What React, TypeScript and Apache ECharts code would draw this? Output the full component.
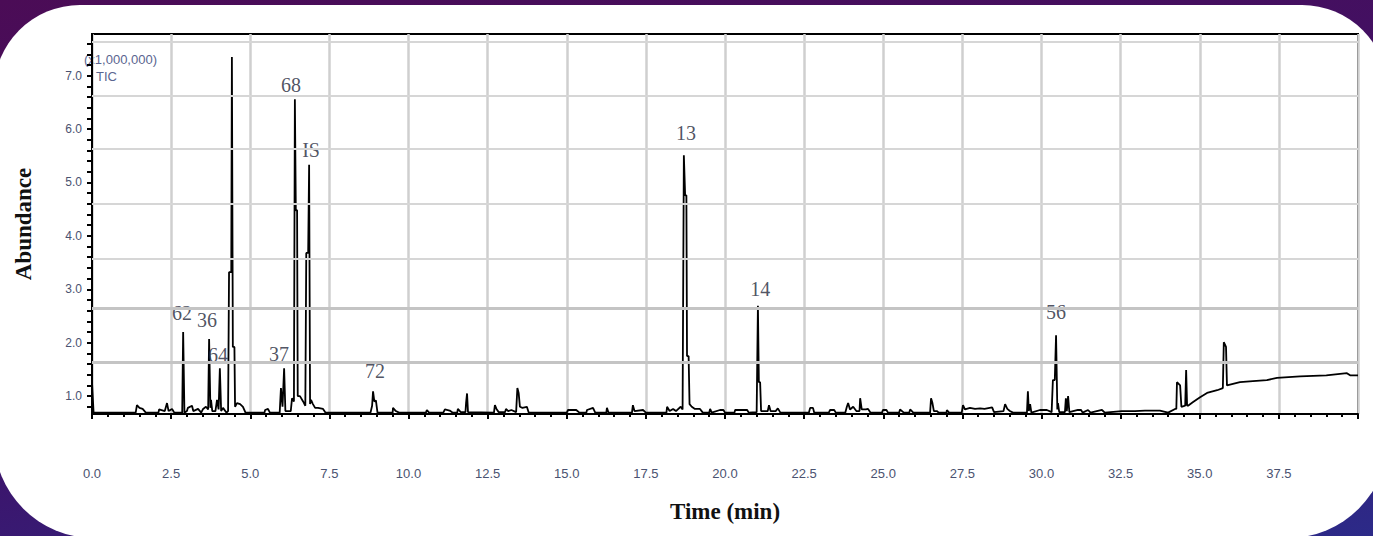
import React, { useEffect, useRef } from "react";
import * as echarts from "echarts";

// ---- data (time in min, abundance in x1,000,000) ----
const segmentEarly: [number, number][] = [
  [0, 1.26], [0.05, 0.69], [1.38, 0.69], [1.42, 0.83], [1.5, 0.78], [1.6, 0.76], [1.7, 0.69],
  [2.1, 0.69], [2.12, 0.75], [2.3, 0.72], [2.37, 0.87], [2.42, 0.72], [2.53, 0.76], [2.6, 0.69],
  [2.85, 0.69], [2.88, 2.2], [2.92, 0.69], [3.0, 0.72], [3.03, 0.78], [3.16, 0.82], [3.2, 0.72],
  [3.35, 0.76], [3.45, 0.69], [3.51, 0.76], [3.6, 0.8], [3.67, 0.75], [3.7, 2.07], [3.74, 0.78],
  [3.76, 0.93], [3.8, 0.72], [3.9, 0.72], [3.95, 0.93], [4.0, 0.75], [4.04, 1.52], [4.08, 0.72],
  [4.14, 0.78], [4.25, 0.69], [4.3, 0.72], [4.33, 3.32], [4.4, 3.32], [4.42, 7.35], [4.45, 1.92],
  [4.5, 1.92], [4.52, 0.8], [4.58, 0.87], [4.68, 0.85], [4.77, 0.8], [4.85, 0.69],
  [5.45, 0.69], [5.47, 0.74], [5.56, 0.76], [5.62, 0.69], [5.93, 0.69], [5.97, 1.15], [6.02, 0.8],
  [6.07, 1.52], [6.11, 0.72], [6.28, 0.72], [6.32, 0.96], [6.38, 0.9], [6.41, 6.56], [6.44, 4.48],
  [6.48, 4.48], [6.5, 1.0], [6.57, 1.0], [6.67, 0.9], [6.74, 0.82], [6.77, 3.68], [6.83, 3.68],
  [6.86, 5.33], [6.89, 0.85], [6.92, 0.93], [6.98, 0.85], [7.05, 0.78], [7.14, 0.78], [7.3, 0.76],
  [7.38, 0.69], [8.8, 0.69], [8.85, 0.82], [8.88, 1.09], [8.92, 0.9], [8.97, 0.92], [9.02, 0.69],
  [9.5, 0.69], [9.51, 0.78], [9.6, 0.72],
];

const segmentMiddle: [number, number][] = [
  [9.7, 0.69], [10.55, 0.69], [10.58, 0.74], [10.65, 0.69], [11.1, 0.69], [11.15, 0.75],
  [11.3, 0.73], [11.4, 0.69], [11.54, 0.69], [11.56, 0.76], [11.65, 0.7], [11.8, 0.7], [11.82, 0.88],
  [11.85, 1.05], [11.88, 0.7], [12.7, 0.69], [12.73, 0.83], [12.78, 0.76], [12.85, 0.7],
  [13.05, 0.7], [13.08, 0.76], [13.15, 0.72], [13.25, 0.74], [13.4, 0.7], [13.44, 1.15],
  [13.48, 1.06], [13.52, 0.8], [13.6, 0.78], [13.74, 0.8], [13.8, 0.69], [15.0, 0.69], [15.04, 0.74],
  [15.3, 0.74], [15.4, 0.69], [15.62, 0.69], [15.64, 0.74], [15.83, 0.78], [15.9, 0.69],
  [16.25, 0.69], [16.27, 0.78], [16.32, 0.69], [17.06, 0.69], [17.09, 0.83], [17.14, 0.72],
  [17.41, 0.74], [17.5, 0.69], [18.15, 0.69], [18.17, 0.8], [18.25, 0.72], [18.36, 0.76],
  [18.45, 0.72], [18.6, 0.8], [18.66, 0.75], [18.7, 5.51], [18.74, 4.76], [18.78, 4.76],
  [18.8, 1.75], [18.85, 1.75], [18.88, 0.85], [18.95, 0.8], [19.05, 0.76], [19.21, 0.76],
  [19.3, 0.69], [19.5, 0.69], [19.53, 0.76], [19.58, 0.69], [19.84, 0.74], [19.95, 0.74],
  [20.0, 0.69], [20.3, 0.69], [20.32, 0.74], [20.7, 0.74], [20.75, 0.69], [21.0, 0.7],
  [21.04, 2.69], [21.07, 1.26], [21.11, 1.26], [21.14, 0.72], [21.35, 0.72], [21.39, 0.83],
  [21.44, 0.72], [21.6, 0.72], [21.67, 0.77], [21.75, 0.69], [22.65, 0.69], [22.69, 0.78],
  [22.78, 0.78], [22.82, 0.69], [23.28, 0.69], [23.32, 0.74], [23.45, 0.74], [23.5, 0.69],
  [23.8, 0.69], [23.85, 0.8], [23.89, 0.87], [23.95, 0.75], [24.05, 0.8], [24.15, 0.72],
  [24.25, 0.72], [24.27, 0.96], [24.32, 0.75], [24.45, 0.75], [24.52, 0.76], [24.6, 0.69],
  [24.96, 0.69], [24.99, 0.74], [25.1, 0.74], [25.15, 0.69], [25.5, 0.69], [25.53, 0.75],
  [25.65, 0.69], [25.82, 0.69], [25.85, 0.75], [25.95, 0.69], [26.48, 0.69], [26.51, 0.96],
  [26.55, 0.88], [26.6, 0.72], [26.7, 0.72], [26.75, 0.69], [27.0, 0.69], [27.01, 0.74],
  [27.08, 0.69], [27.48, 0.69], [27.52, 0.83], [27.58, 0.75], [27.74, 0.78], [27.9, 0.76],
  [28.06, 0.77], [28.2, 0.76], [28.44, 0.79], [28.5, 0.7], [28.8, 0.72], [28.85, 0.85],
  [28.92, 0.76], [29.0, 0.72], [29.1, 0.69], [29.54, 0.69], [29.57, 1.09], [29.6, 0.72],
  [29.64, 0.85], [29.68, 0.69],
];

const segmentLate: [number, number][] = [
  [29.95, 0.74], [30.17, 0.74], [30.32, 0.7], [30.36, 1.3], [30.42, 1.3], [30.46, 2.14],
  [30.5, 0.75], [30.52, 0.87], [30.56, 0.7], [30.74, 0.7], [30.77, 0.96], [30.8, 0.72],
  [30.84, 1.0], [30.88, 0.7], [31.15, 0.74], [31.25, 0.74], [31.3, 0.69], [31.47, 0.74],
  [31.55, 0.69], [31.91, 0.74], [32.0, 0.69], [32.54, 0.72], [32.95, 0.72], [33.27, 0.73],
  [33.74, 0.73], [34.0, 0.69], [34.22, 0.76], [34.26, 0.76], [34.28, 1.26], [34.38, 1.2],
  [34.42, 0.8], [34.54, 0.82], [34.57, 1.49], [34.6, 0.82], [34.63, 0.82], [34.79, 0.89],
  [35.01, 0.98], [35.23, 1.06], [35.55, 1.11], [35.73, 1.15], [35.76, 2.01], [35.83, 1.92],
  [35.86, 1.2], [36.27, 1.26], [36.68, 1.28], [37.12, 1.3], [37.44, 1.34], [38.17, 1.37],
  [39.0, 1.39], [39.65, 1.43], [39.75, 1.39], [40, 1.39],
];

const peakNames = ["62", "36", "64", "37", "68", "IS", "72", "13", "14", "56"];
const peakLabelTimes = [2.84, 3.63, 3.98, 5.91, 6.29, 6.92, 8.94, 18.77, 21.11, 30.46];
const peakLabelLevels = [2.55, 2.42, 1.77, 1.79, 6.82, 5.61, 1.47, 5.93, 3.0, 2.57];

const yTickLabels = [1, 2, 3, 4, 5, 6, 7];
const yMinorTicks = [
  0.8, 1.0, 1.2, 1.4, 1.6, 1.8, 2.0, 2.2, 2.4, 2.6, 2.8, 3.0, 3.2, 3.4, 3.6, 3.8, 4.0, 4.2,
  4.4, 4.6, 4.8, 5.0, 5.2, 5.4, 5.6, 5.8, 6.0, 6.2, 6.4, 6.6, 6.8, 7.0, 7.2, 7.4, 7.6,
];
const gridLevelsLight = [3.58, 4.6, 5.63, 6.62, 7.63];
const gridLevelsHeavy = [1.64, 2.65];

export default function App() {
  const ref = useRef<HTMLDivElement>(null);

  useEffect(() => {
    if (!ref.current) return;
    const chart = echarts.init(ref.current, null, { renderer: "svg" });
    const trace = [...segmentEarly, ...segmentMiddle, ...segmentLate];
    const labels = peakNames.map((n, i) => [peakLabelTimes[i], peakLabelLevels[i], n]);

    chart.setOption({
      animation: false,
      grid: {
        left: 92,
        right: 15,
        top: 34,
        bottom: 122,
        show: true,
        borderColor: "#000",
        borderWidth: 2,
        backgroundColor: "transparent",
      },
      graphic: [
        {
          type: "text",
          left: 84,
          top: 53,
          style: {
            text: "(x1,000,000)",
            font: "13px 'Liberation Sans', Arial, sans-serif",
            fill: "#5a6590",
          },
        },
        {
          type: "text",
          left: 96,
          top: 70,
          style: {
            text: "TIC",
            font: "13px 'Liberation Sans', Arial, sans-serif",
            fill: "#5a6590",
          },
        },
      ],
      xAxis: {
        type: "value",
        min: 0,
        max: 40,
        interval: 2.5,
        name: "Time (min)",
        nameLocation: "middle",
        nameGap: 86,
        nameTextStyle: {
          fontFamily: "'Liberation Serif', 'DejaVu Serif', serif",
          fontWeight: "bold",
          fontSize: 23,
          color: "#111",
        },
        axisLine: { show: true, lineStyle: { color: "#000", width: 2 } },
        axisTick: { show: true, length: 5, lineStyle: { color: "#000", width: 2 } },
        minorTick: { show: true, splitNumber: 5, length: 3, lineStyle: { color: "#000", width: 2 } },
        splitLine: { show: true, lineStyle: { color: "#cfcfcf", width: 2.5 } },
        axisLabel: {
          margin: 53,
          fontSize: 13,
          color: "#4a5270",
          fontFamily: "'Liberation Sans', Arial, sans-serif",
          showMaxLabel: false,
          formatter: (v: number) => v.toFixed(1),
        },
      },
      yAxis: {
        type: "value",
        min: 0.665,
        max: 7.78,
        name: "Abundance",
        nameLocation: "middle",
        nameRotate: 90,
        nameGap: 57,
        nameTextStyle: {
          fontFamily: "'Liberation Serif', 'DejaVu Serif', serif",
          fontWeight: "bold",
          fontSize: 23,
          color: "#111",
        },
        axisLine: { show: true, lineStyle: { color: "#000", width: 2 } },
        axisTick: {
          show: true,
          length: 5,
          customValues: yMinorTicks,
          lineStyle: { color: "#000", width: 2 },
        },
        splitLine: { show: false },
        axisLabel: {
          margin: 10,
          fontSize: 12,
          color: "#4a5270",
          fontFamily: "'Liberation Sans', Arial, sans-serif",
          customValues: yTickLabels,
          formatter: (v: number) => v.toFixed(1),
        },
      },
      series: [
        {
          type: "line",
          data: [],
          z: 1,
          silent: true,
          markLine: {
            silent: true,
            symbol: "none",
            label: { show: false },
            lineStyle: { color: "#d6d6d6", width: 2, type: "solid" },
            data: gridLevelsLight.map((v) => ({ yAxis: v })),
          },
        },
        {
          type: "line",
          data: [],
          z: 1,
          silent: true,
          markLine: {
            silent: true,
            symbol: "none",
            label: { show: false },
            lineStyle: { color: "#c4c4c4", width: 3, type: "solid" },
            data: gridLevelsHeavy.map((v) => ({ yAxis: v })),
          },
        },
        {
          type: "line",
          data: trace,
          z: 3,
          silent: true,
          showSymbol: false,
          symbol: "none",
          lineStyle: { color: "#000", width: 1.8 },
        },
        {
          type: "scatter",
          data: labels,
          z: 4,
          silent: true,
          symbolSize: 0,
          label: {
            show: true,
            position: "inside",
            formatter: (p: any) => p.data[2],
            fontFamily: "'Liberation Serif', 'DejaVu Serif', serif",
            fontSize: 20,
            color: "#23273a",
          },
        },
      ],
    });

    return () => chart.dispose();
  }, []);

  return (
    <div
      style={{
        position: "absolute",
        left: 0,
        top: 0,
        width: 1373,
        height: 536,
        overflow: "hidden",
        background: "linear-gradient(170deg, #4b0c56 0%, #3e1268 55%, #2c2a88 100%)",
      }}
    >
      <div
        style={{
          position: "absolute",
          left: -6,
          top: 5,
          width: 1394,
          height: 533,
          background: "#ffffff",
          borderRadius: "86px 86px 100px 100px",
        }}
      />
      <div ref={ref} style={{ position: "absolute", left: 0, top: 0, width: 1373, height: 536 }} />
    </div>
  );
}
